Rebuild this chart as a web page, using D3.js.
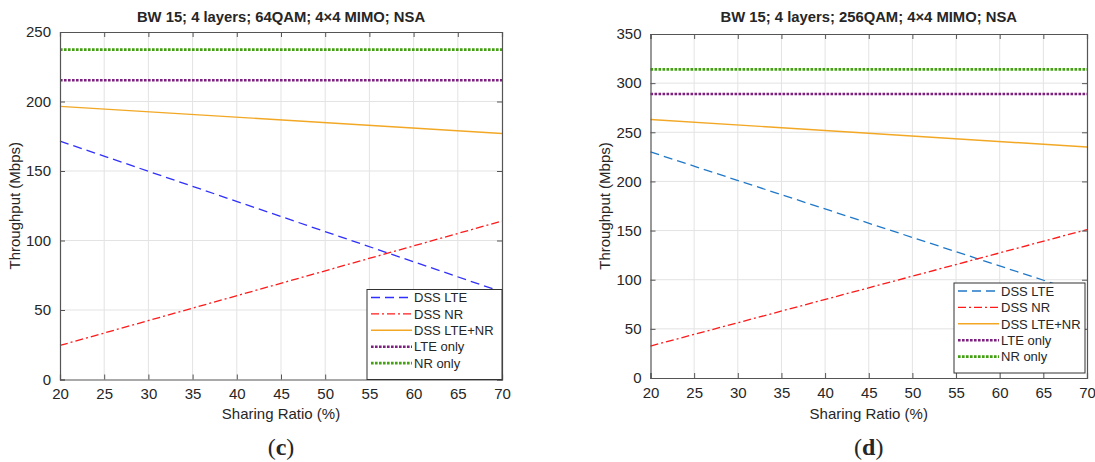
<html>
<head>
<meta charset="UTF-8"/>
<script src="https://d3js.org/d3.v7.min.js"></script>
<style>
body { margin: 0; background: #fff; }
text { font-family: "Liberation Sans", Arial, sans-serif; fill: #262626; }
</style>
</head>
<body>
<script>
// sharing ratio (%) at the ends of each line
const ratio = [20, 70];
const xTicks = [20, 25, 30, 35, 40, 45, 50, 55, 60, 65, 70];

// (c) 64QAM
const lte64 = [171.5, 63];
const nr64 = [24.5, 114];
const sum64 = [196.5, 177];
const lteOnly64 = [215.3, 215.3];
const nrOnly64 = [237.3, 237.3];
const yTicks64 = [0, 50, 100, 150, 200, 250];

// (d) 256QAM
const lte256 = [230, 85];
const nr256 = [32.5, 151];
const sum256 = [263, 235];
const lteOnly256 = [289, 289];
const nrOnly256 = [314, 314];
const yTicks256 = [0, 50, 100, 150, 200, 250, 300, 350];

const names = ["DSS LTE", "DSS NR", "DSS LTE+NR", "LTE only", "NR only"];

var width = 1095, height = 462;

var svg = d3.select("body").append("svg")
	.attr("width", width)
	.attr("height", height);

function styleOf(i, blue){
	// line look per series
	if(i == 0) return {c: blue, w: 1.3, d: "9,5"};
	if(i == 1) return {c: "#ff1a1a", w: 1.3, d: "8,3,2,3"};
	if(i == 2) return {c: "#f2a825", w: 1.4, d: null};
	if(i == 3) return {c: "#7e2080", w: 2.6, d: "2.6,1.4"};
	return {c: "#42a012", w: 2.6, d: "2.6,1.4"};
}

function panel(p){
	const g = svg.append("g");
	const x = d3.scaleLinear().domain([20, 70]).range([p.left, p.right]);
	const y = d3.scaleLinear().domain([0, p.ymax]).range([p.bottom, p.top]);

	// grid
	g.selectAll(".gx").data(xTicks.slice(1, -1)).enter().append("line")
		.attr("x1", d => x(d)).attr("x2", d => x(d))
		.attr("y1", p.top).attr("y2", p.bottom)
		.attr("stroke", "#e3e3e3").attr("stroke-width", 1);
	g.selectAll(".gy").data(p.yTicks.slice(1, -1)).enter().append("line")
		.attr("x1", p.left).attr("x2", p.right)
		.attr("y1", d => y(d)).attr("y2", d => y(d))
		.attr("stroke", "#e3e3e3").attr("stroke-width", 1);

	// series
	const line = d3.line().x((d, i) => x(ratio[i])).y(d => y(d));
	p.series.forEach((s, i) => {
		const st = styleOf(i, p.blue);
		g.append("path").attr("d", line(s))
			.attr("fill", "none").attr("stroke", st.c)
			.attr("stroke-width", st.w)
			.attr("stroke-dasharray", st.d);
	});

	// axes (inward ticks, box)
	const ax = [
		d3.axisBottom(x).tickValues(xTicks).tickSize(-5).tickPadding(9).tickFormat(d3.format("d")),
		d3.axisTop(x).tickValues(xTicks).tickSize(-5).tickFormat(""),
		d3.axisLeft(y).tickValues(p.yTicks).tickSize(-5).tickPadding(9).tickFormat(d3.format("d")),
		d3.axisRight(y).tickValues(p.yTicks).tickSize(-5).tickFormat("")
	];
	const pos = ["translate(0," + p.bottom + ")", "translate(0," + p.top + ")",
		"translate(" + p.left + ",0)", "translate(" + p.right + ",0)"];
	ax.forEach((a, i) => {
		const ag = g.append("g").attr("transform", pos[i]).call(a);
		ag.select(".domain").attr("stroke", "#555").attr("stroke-width", 1.2);
		ag.selectAll(".tick line").attr("stroke", "#555");
		ag.selectAll("text").attr("font-size", 15).attr("fill", "#222")
			.attr("font-family", "Liberation Sans, Arial, sans-serif");
	});

	// titles
	g.append("text").attr("x", (p.left + p.right) / 2).attr("y", 22)
		.attr("text-anchor", "middle").attr("font-weight", "bold").attr("font-size", 14.8)
		.attr("fill", "#222")
		.text(p.title);
	g.append("text").attr("x", (p.left + p.right) / 2).attr("y", 419)
		.attr("text-anchor", "middle").attr("font-size", 15).attr("fill", "#222")
		.text("Sharing Ratio (%)");
	g.append("text")
		.attr("transform", "translate(" + p.ylabX + "," + (p.top + p.bottom) / 2 + ") rotate(-90)")
		.attr("text-anchor", "middle").attr("font-size", 15).attr("fill", "#222")
		.text("Throughput (Mbps)");
	g.append("text").attr("x", (p.left + p.right) / 2).attr("y", 455)
		.attr("text-anchor", "middle").attr("font-size", 24)
		.style("font-family", "'Liberation Serif', 'DejaVu Serif', serif")
		.attr("fill", "#111")
		.html("(<tspan font-weight='bold'>" + p.tag + "</tspan>)");

	// legend
	const lg = g.append("g").attr("transform", "translate(" + p.legX + "," + p.legY + ")");
	lg.append("rect").attr("width", p.legW).attr("height", 90)
		.attr("fill", "#fff").attr("stroke", "#333").attr("stroke-width", 1);
	names.forEach((n, i) => {
		const st = styleOf(i, p.blue);
		const yy = 8 + i * 16.4;
		lg.append("line").attr("x1", 4).attr("x2", 45).attr("y1", yy).attr("y2", yy)
			.attr("stroke", st.c).attr("stroke-width", st.w)
			.attr("stroke-dasharray", st.d);
		lg.append("text").attr("x", 47).attr("y", yy + 4.7).attr("font-size", 13)
			.attr("fill", "#222").text(n);
	});
}

panel({left: 60, right: 502, top: 32, bottom: 379.5, ymax: 250, yTicks: yTicks64,
	series: [lte64, nr64, sum64, lteOnly64, nrOnly64], blue: "#2f2fff",
	title: "BW 15; 4 layers; 64QAM; 4×4 MIMO; NSA", tag: "c", ylabX: 20,
	legX: 367, legY: 289.5, legW: 135});
panel({left: 650.5, right: 1087, top: 34, bottom: 378, ymax: 350, yTicks: yTicks256,
	series: [lte256, nr256, sum256, lteOnly256, nrOnly256], blue: "#1f78c8",
	title: "BW 15; 4 layers; 256QAM; 4×4 MIMO; NSA", tag: "d", ylabX: 610,
	legX: 954, legY: 283, legW: 131});
</script>
</body>
</html>
